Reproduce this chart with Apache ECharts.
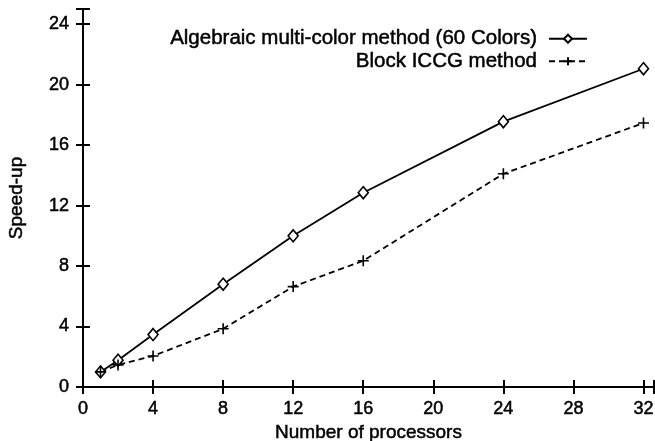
<!DOCTYPE html>
<html><head><meta charset="utf-8">
<script src="https://cdn.jsdelivr.net/npm/echarts@6/dist/echarts.min.js"></script>
<style>html,body{margin:0;padding:0;background:#fff}#c{width:655px;height:441px}</style>
</head><body><div id="c"></div>
<script>
const processors = [1, 2, 4, 8, 12, 16, 24, 32];
const algebraicSpeedup = [1.0, 1.77, 3.47, 6.8, 10.0, 12.85, 17.55, 21.05];
const iccgSpeedup = [1.0, 1.46, 2.05, 3.85, 6.64, 8.35, 14.1, 17.46];
const seriesNames = ['Algebraic multi-color method (60 Colors)', 'Block ICCG method'];

const font = 'Liberation Sans, Arial, Helvetica, sans-serif';
const heavy = {fontFamily: font, color: '#000', textBorderColor: '#000', textBorderWidth: 0.5};
const plus = 'path://M5 0 L5 10 M0 5 L10 5';
const chart = echarts.init(document.getElementById('c'));
const pair = (xs, ys) => xs.map((x, i) => [x, ys[i]]);
chart.setOption({
  animation: false,
  grid: {left: 83, right: 1, top: 9, bottom: 54, outerBoundsMode: 'none', containLabel: false},
  legend: {
    orient: 'vertical', right: 67, top: 28, align: 'right', itemGap: 1, padding: 0,
    itemWidth: 38, itemHeight: 10,
    textStyle: Object.assign({fontSize: 20.5, padding: [0, 7, 0, 0]}, heavy),
    data: seriesNames
  },
  xAxis: [{
    type: 'value', min: 0, max: 32.6, interval: 4,
    name: 'Number of processors', nameLocation: 'middle', nameGap: 35,
    nameTextStyle: Object.assign({fontSize: 19}, heavy),
    axisLine: {onZero: false, lineStyle: {color: '#000', width: 2}},
    axisTick: {inside: true, length: 7, lineStyle: {color: '#000', width: 2}},
    axisLabel: Object.assign({fontSize: 18, margin: 13,
      formatter: v => (v % 4 === 0 ? v : '')}, heavy),
    splitLine: {show: false}
  }, {
    type: 'value', position: 'top', min: 0, max: 32.6, interval: 4,
    axisLine: {show: true, lineStyle: {color: '#000', width: 1.5}},
    axisTick: {inside: true, length: 7, lineStyle: {color: '#000', width: 2}},
    axisLabel: {show: false}, splitLine: {show: false}
  }],
  yAxis: [{
    type: 'value', min: 0, max: 25, interval: 4,
    name: 'Speed-up', nameLocation: 'middle', nameGap: 57, nameRotate: 90,
    nameTextStyle: Object.assign({fontSize: 19}, heavy),
    axisLine: {show: true, lineStyle: {color: '#000', width: 2}},
    axisTick: {inside: true, length: 7, lineStyle: {color: '#000', width: 2}},
    axisLabel: Object.assign({fontSize: 18, margin: 14,
      formatter: v => (v % 4 === 0 ? v : '')}, heavy),
    splitLine: {show: false}
  }, {
    type: 'value', position: 'right', min: 0, max: 25, interval: 4,
    axisLine: {show: true, lineStyle: {color: '#000', width: 1.5}},
    axisTick: {inside: true, length: 7, lineStyle: {color: '#000', width: 2}},
    axisLabel: {show: false}, splitLine: {show: false}
  }],
  series: [{
    name: seriesNames[0], type: 'line', data: pair(processors, algebraicSpeedup),
    symbol: 'diamond', symbolSize: [10, 12],
    lineStyle: {color: '#000', width: 1.8},
    itemStyle: {color: '#fff', borderColor: '#000', borderWidth: 1.6}
  }, {
    name: seriesNames[1], type: 'line', data: pair(processors, iccgSpeedup),
    symbol: plus, symbolSize: 11,
    lineStyle: {color: '#000', width: 1.8, type: [6, 4]},
    itemStyle: {color: 'none', borderColor: '#000', borderWidth: 1.6}
  }]
});
</script></body></html>
